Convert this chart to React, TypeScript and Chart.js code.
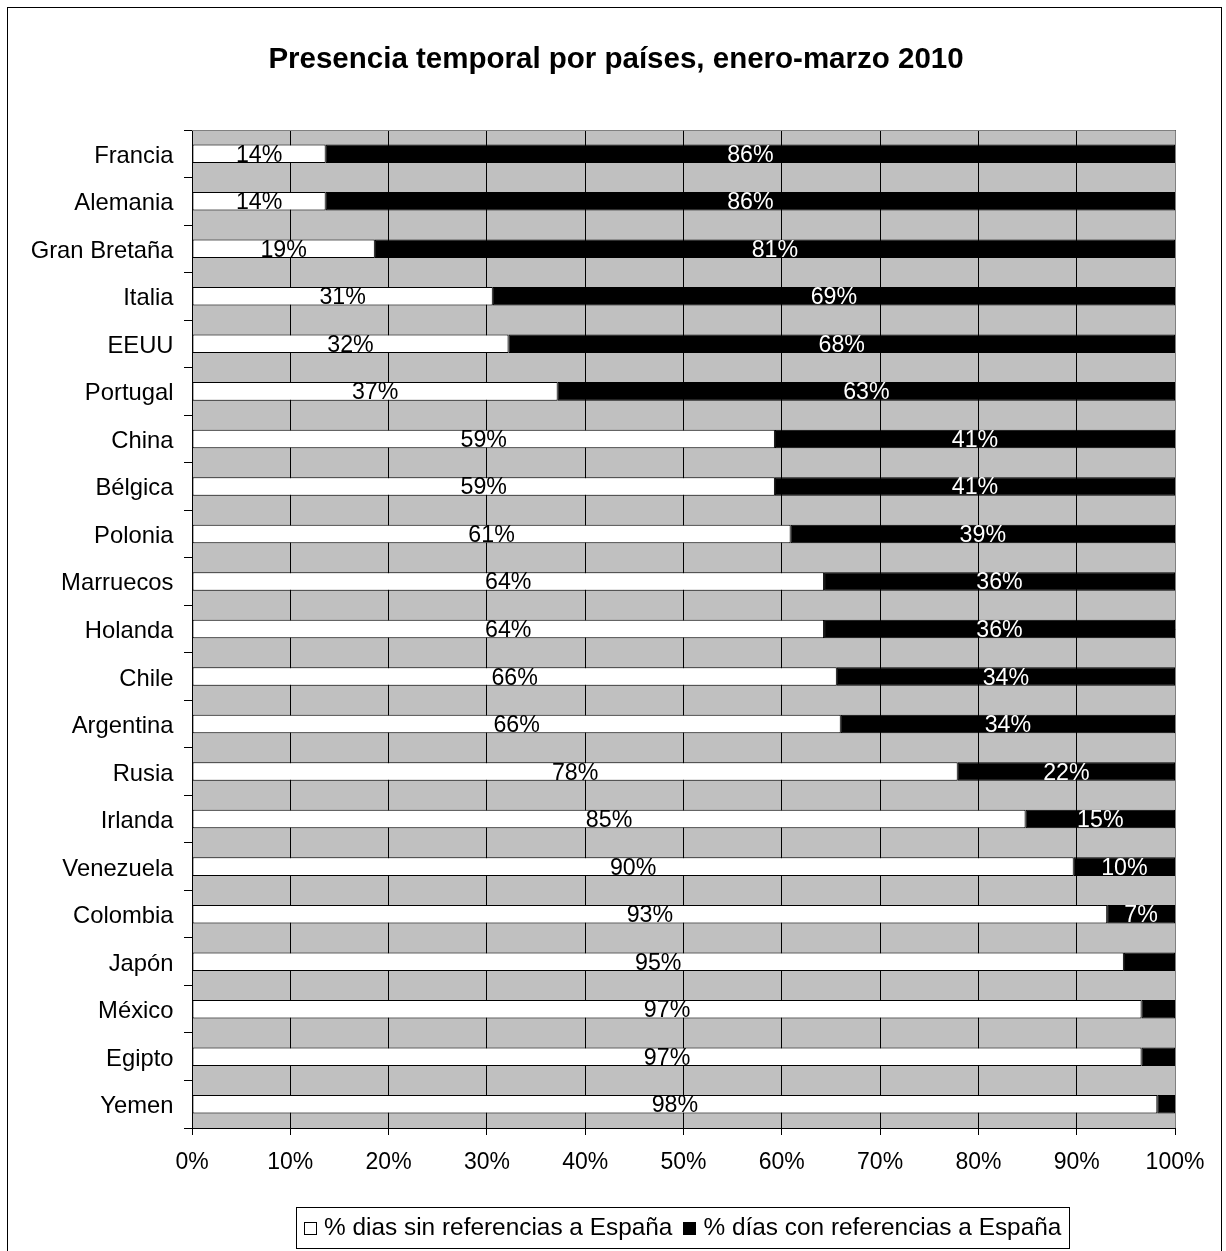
import { useEffect, useRef } from 'react';
import { Chart, registerables } from 'chart.js';

Chart.register(...registerables);

const FONT = '"Liberation Sans", Arial, Helvetica, sans-serif';

const TITLE = 'Presencia temporal por países, enero-marzo 2010';

const categories = [
  'Francia', 'Alemania', 'Gran Bretaña', 'Italia', 'EEUU', 'Portugal', 'China',
  'Bélgica', 'Polonia', 'Marruecos', 'Holanda', 'Chile', 'Argentina', 'Rusia',
  'Irlanda', 'Venezuela', 'Colombia', 'Japón', 'México', 'Egipto', 'Yemen',
];

const sinReferencias = [
  13.6, 13.6, 18.6, 30.6, 32.2, 37.2, 59.3, 59.3, 60.9, 64.3, 64.3, 65.6, 66.0,
  77.9, 84.8, 89.7, 93.1, 94.8, 96.6, 96.6, 98.2,
];

const conReferencias = [
  86.4, 86.4, 81.4, 69.4, 67.8, 62.8, 40.7, 40.7, 39.1, 35.7, 35.7, 34.4, 34.0,
  22.1, 15.2, 10.3, 6.9, 5.2, 3.4, 3.4, 1.8,
];

const seriesNames = [
  '% dias sin referencias a España',
  '% días con referencias a España',
];

const xTicks = [0, 10, 20, 30, 40, 50, 60, 70, 80, 90, 100];

export default function App() {
  const ref = useRef<HTMLCanvasElement>(null);

  useEffect(() => {
    const canvas = ref.current;
    if (!canvas) return;

    const framePlugin = {
      id: 'frame',
      beforeDraw(chart: any) {
        const { ctx, chartArea: a } = chart;
        ctx.save();
        ctx.fillStyle = '#ffffff';
        ctx.fillRect(0, 0, chart.width, chart.height);
        ctx.strokeStyle = '#000000';
        ctx.lineWidth = 1;
        ctx.strokeRect(7.5, 7.5, 1214, 1270);
        ctx.fillStyle = '#C0C0C0';
        ctx.fillRect(a.left, a.top, a.right - a.left, a.bottom - a.top);
        ctx.restore();
      },
      beforeDatasetsDraw(chart: any) {
        const { ctx, chartArea: a } = chart;
        ctx.save();
        ctx.strokeStyle = '#808080';
        ctx.lineWidth = 1;
        ctx.beginPath();
        ctx.moveTo(a.left, Math.round(a.top) + 0.5);
        ctx.lineTo(a.right + 0.5, Math.round(a.top) + 0.5);
        ctx.lineTo(a.right + 0.5, a.bottom);
        ctx.stroke();
        ctx.restore();
      },
      afterDraw(chart: any) {
        const { ctx } = chart;
        ctx.save();
        // title
        ctx.fillStyle = '#000';
        ctx.font = `bold 29.5px ${FONT}`;
        ctx.textAlign = 'center';
        ctx.textBaseline = 'alphabetic';
        ctx.fillText(TITLE, 616, 68);

        // category labels
        const yScale = chart.scales.y;
        ctx.font = `23.8px ${FONT}`;
        ctx.textAlign = 'right';
        categories.forEach((c, i) => {
          const py = yScale.getPixelForTick(i);
          ctx.fillText(c, 173.5, py + 9);
        });

        // legend
        ctx.font = `24.4px ${FONT}`;
        ctx.textAlign = 'left';
        const box = 13;
        const gapBoxText = 7;
        const gapItems = 11;
        const widths = seriesNames.map((n) => ctx.measureText(n).width);
        const content =
          widths.reduce((s, w) => s + w, 0) +
          seriesNames.length * (box + gapBoxText) +
          (seriesNames.length - 1) * gapItems;
        const pad = 8;
        const bw = Math.round(content + pad * 2);
        const bx = Math.round(682 - bw / 2);
        const by = 1207;
        const bh = 41;
        ctx.fillStyle = '#fff';
        ctx.fillRect(bx, by, bw, bh);
        ctx.strokeStyle = '#000';
        ctx.lineWidth = 1;
        ctx.strokeRect(bx + 0.5, by + 0.5, bw, bh);
        let cx = bx + pad;
        const colors = ['#ffffff', '#000000'];
        seriesNames.forEach((n, i) => {
          ctx.fillStyle = colors[i];
          ctx.fillRect(Math.round(cx) + 0.5, 1222.5, box - 1, box - 1);
          ctx.strokeStyle = '#000';
          ctx.strokeRect(Math.round(cx) + 0.5, 1222.5, box - 1, box - 1);
          cx += box + gapBoxText;
          ctx.fillStyle = '#000';
          ctx.fillText(n, cx, 1235);
          cx += widths[i] + gapItems;
        });
        ctx.restore();
      },
    };

    const labelPlugin = {
      id: 'segLabels',
      afterDatasetsDraw(chart: any) {
        const { ctx } = chart;
        ctx.save();
        ctx.font = `23.2px ${FONT}`;
        ctx.textAlign = 'center';
        ctx.textBaseline = 'alphabetic';
        chart.data.datasets.forEach((ds: any, di: number) => {
          const meta = chart.getDatasetMeta(di);
          meta.data.forEach((el: any, i: number) => {
            const v = ds.data[i] as number;
            if (v < 6) return;
            const { x, base, y } = el.getProps(['x', 'base', 'y'], true);
            ctx.fillStyle = di === 0 ? '#000' : '#fff';
            ctx.fillText(Math.round(v) + '%', (x + base) / 2, y + 8);
          });
        });
        ctx.restore();
      },
    };

    const chart = new Chart(canvas, {
      type: 'bar',
      data: {
        labels: categories,
        datasets: [
          {
            label: seriesNames[0],
            data: sinReferencias,
            backgroundColor: '#ffffff',
            borderColor: '#000000',
            borderWidth: 1,
            borderSkipped: false,
            barPercentage: 0.39,
            categoryPercentage: 1,
          },
          {
            label: seriesNames[1],
            data: conReferencias,
            backgroundColor: '#000000',
            borderColor: '#000000',
            borderWidth: 1,
            borderSkipped: false,
            barPercentage: 0.39,
            categoryPercentage: 1,
          },
        ],
      },
      options: {
        indexAxis: 'y',
        responsive: false,
        maintainAspectRatio: false,
        animation: false,
        devicePixelRatio: 1,
        layout: { padding: { left: 0, right: 51, top: 130, bottom: 73 } },
        plugins: {
          legend: { display: false },
          title: { display: false },
          tooltip: { enabled: false },
        },
        scales: {
          x: {
            type: 'linear',
            stacked: true,
            min: 0,
            max: 100,
            afterBuildTicks: (s: any) => {
              s.ticks = xTicks.map((v) => ({ value: v }));
            },
            ticks: {
              color: '#000',
              font: { family: FONT, size: 23 },
              padding: 14,
              maxRotation: 0,
              callback: (v: any) => v + '%',
            },
            grid: { color: '#000', lineWidth: 1, tickLength: 7, drawOnChartArea: true },
            border: { display: true, color: '#000' },
            afterFit: (s: any) => {
              s.height = 50;
            },
          },
          y: {
            type: 'category',
            stacked: true,
            ticks: {
              color: 'rgba(0,0,0,0)',
              font: { family: FONT, size: 23 },
              padding: 10,
              autoSkip: false,
            },
            grid: { display: true, drawOnChartArea: false, tickLength: 8, color: '#000', offset: true },
            border: { display: true, color: '#000' },
            afterFit: (s: any) => {
              s.width = 192;
            },
          },
        },
      },
      plugins: [framePlugin, labelPlugin],
    } as any);

    return () => chart.destroy();
  }, []);

  return (
    <div style={{ position: 'absolute', left: 0, top: 0, width: 1226, height: 1251, background: '#fff' }}>
      <canvas ref={ref} width={1226} height={1251} style={{ display: 'block', width: 1226, height: 1251 }} />
    </div>
  );
}
